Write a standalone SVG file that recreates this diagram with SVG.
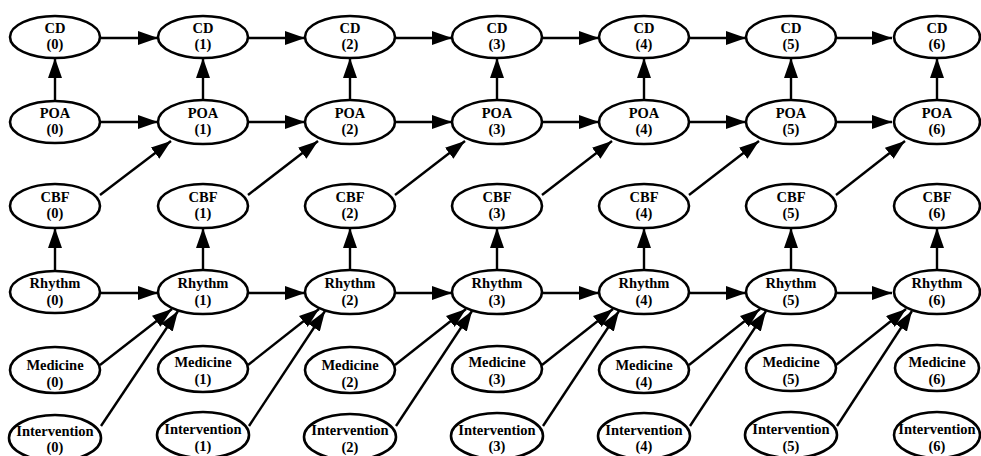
<svg xmlns="http://www.w3.org/2000/svg" width="981" height="456" viewBox="0 0 981 456">
<defs>
<marker id="ah" markerUnits="userSpaceOnUse" markerWidth="20" markerHeight="14" refX="20" refY="7" orient="auto">
<path d="M0,0 L20,7 L0,14 z" fill="#000"/>
</marker>
<style>
.n ellipse{fill:#fff;stroke:#000;stroke-width:2.6}
.n text{font-family:"Liberation Serif","Times New Roman",serif;font-size:14.5px;font-weight:bold;text-anchor:middle;fill:#000}
#edges line{stroke:#000;stroke-width:2.4;marker-end:url(#ah)}
</style>
</defs>
<rect width="981" height="456" fill="#fff"/>
<g id="edges">
<line x1="100" y1="38" x2="158" y2="38"/>
<line x1="248" y1="38" x2="305" y2="38"/>
<line x1="395" y1="38" x2="452" y2="38"/>
<line x1="542" y1="38" x2="599" y2="38"/>
<line x1="689" y1="38" x2="746" y2="38"/>
<line x1="836" y1="38" x2="892" y2="38"/>
<line x1="100" y1="122" x2="158" y2="122"/>
<line x1="248" y1="122" x2="305" y2="122"/>
<line x1="395" y1="122" x2="452" y2="122"/>
<line x1="542" y1="122" x2="599" y2="122"/>
<line x1="689" y1="122" x2="746" y2="122"/>
<line x1="836" y1="122" x2="892" y2="122"/>
<line x1="100" y1="293" x2="158" y2="293"/>
<line x1="248" y1="293" x2="305" y2="293"/>
<line x1="395" y1="293" x2="452" y2="293"/>
<line x1="542" y1="293" x2="599" y2="293"/>
<line x1="689" y1="293" x2="746" y2="293"/>
<line x1="836" y1="293" x2="892" y2="293"/>
<line x1="55" y1="101" x2="55" y2="58"/>
<line x1="203" y1="101" x2="203" y2="58"/>
<line x1="350" y1="101" x2="350" y2="58"/>
<line x1="497" y1="101" x2="497" y2="58"/>
<line x1="644" y1="101" x2="644" y2="58"/>
<line x1="791" y1="101" x2="791" y2="58"/>
<line x1="937" y1="101" x2="937" y2="58"/>
<line x1="55" y1="271" x2="55" y2="228"/>
<line x1="203" y1="271" x2="203" y2="228"/>
<line x1="350" y1="271" x2="350" y2="228"/>
<line x1="497" y1="271" x2="497" y2="228"/>
<line x1="644" y1="271" x2="644" y2="228"/>
<line x1="791" y1="271" x2="791" y2="228"/>
<line x1="937" y1="271" x2="937" y2="228"/>
<line x1="100" y1="195" x2="171" y2="141"/>
<line x1="248" y1="195" x2="318" y2="141"/>
<line x1="395" y1="195" x2="465" y2="141"/>
<line x1="542" y1="195" x2="612" y2="141"/>
<line x1="689" y1="195" x2="759" y2="141"/>
<line x1="836" y1="195" x2="905" y2="141"/>
<line x1="100" y1="365" x2="172" y2="309"/>
<line x1="248" y1="365" x2="319" y2="309"/>
<line x1="395" y1="365" x2="466" y2="309"/>
<line x1="542" y1="365" x2="613" y2="309"/>
<line x1="689" y1="365" x2="760" y2="309"/>
<line x1="836" y1="365" x2="906" y2="309"/>
<line x1="101" y1="426" x2="178" y2="311"/>
<line x1="249" y1="426" x2="325" y2="311"/>
<line x1="396" y1="426" x2="472" y2="311"/>
<line x1="543" y1="426" x2="619" y2="311"/>
<line x1="690" y1="426" x2="766" y2="311"/>
<line x1="837" y1="426" x2="912" y2="311"/>
</g>
<g id="cd0" class="n"><ellipse cx="55" cy="37" rx="45" ry="21"/><text x="55" y="32.5">CD<tspan x="55" dy="16.5">(0)</tspan></text></g>
<g id="cd1" class="n"><ellipse cx="203" cy="37" rx="45" ry="21"/><text x="203" y="32.5">CD<tspan x="203" dy="16.5">(1)</tspan></text></g>
<g id="cd2" class="n"><ellipse cx="350" cy="37" rx="45" ry="21"/><text x="350" y="32.5">CD<tspan x="350" dy="16.5">(2)</tspan></text></g>
<g id="cd3" class="n"><ellipse cx="497" cy="37" rx="45" ry="21"/><text x="497" y="32.5">CD<tspan x="497" dy="16.5">(3)</tspan></text></g>
<g id="cd4" class="n"><ellipse cx="644" cy="37" rx="45" ry="21"/><text x="644" y="32.5">CD<tspan x="644" dy="16.5">(4)</tspan></text></g>
<g id="cd5" class="n"><ellipse cx="791" cy="37" rx="45" ry="21"/><text x="791" y="32.5">CD<tspan x="791" dy="16.5">(5)</tspan></text></g>
<g id="cd6" class="n"><ellipse cx="937" cy="37" rx="43" ry="21"/><text x="937" y="32.5">CD<tspan x="937" dy="16.5">(6)</tspan></text></g>
<g id="poa0" class="n"><ellipse cx="55" cy="122" rx="45" ry="21"/><text x="55" y="117.5">POA<tspan x="55" dy="16.5">(0)</tspan></text></g>
<g id="poa1" class="n"><ellipse cx="203" cy="122" rx="45" ry="22"/><text x="203" y="117.5">POA<tspan x="203" dy="16.5">(1)</tspan></text></g>
<g id="poa2" class="n"><ellipse cx="350" cy="122" rx="45" ry="22"/><text x="350" y="117.5">POA<tspan x="350" dy="16.5">(2)</tspan></text></g>
<g id="poa3" class="n"><ellipse cx="497" cy="122" rx="45" ry="22"/><text x="497" y="117.5">POA<tspan x="497" dy="16.5">(3)</tspan></text></g>
<g id="poa4" class="n"><ellipse cx="644" cy="122" rx="45" ry="22"/><text x="644" y="117.5">POA<tspan x="644" dy="16.5">(4)</tspan></text></g>
<g id="poa5" class="n"><ellipse cx="791" cy="122" rx="45" ry="22"/><text x="791" y="117.5">POA<tspan x="791" dy="16.5">(5)</tspan></text></g>
<g id="poa6" class="n"><ellipse cx="937" cy="122" rx="43" ry="22"/><text x="937" y="117.5">POA<tspan x="937" dy="16.5">(6)</tspan></text></g>
<g id="cbf0" class="n"><ellipse cx="55" cy="206" rx="45" ry="22"/><text x="55" y="201.5">CBF<tspan x="55" dy="16.5">(0)</tspan></text></g>
<g id="cbf1" class="n"><ellipse cx="203" cy="206" rx="45" ry="22"/><text x="203" y="201.5">CBF<tspan x="203" dy="16.5">(1)</tspan></text></g>
<g id="cbf2" class="n"><ellipse cx="350" cy="206" rx="45" ry="22"/><text x="350" y="201.5">CBF<tspan x="350" dy="16.5">(2)</tspan></text></g>
<g id="cbf3" class="n"><ellipse cx="497" cy="206" rx="45" ry="22"/><text x="497" y="201.5">CBF<tspan x="497" dy="16.5">(3)</tspan></text></g>
<g id="cbf4" class="n"><ellipse cx="644" cy="206" rx="45" ry="22"/><text x="644" y="201.5">CBF<tspan x="644" dy="16.5">(4)</tspan></text></g>
<g id="cbf5" class="n"><ellipse cx="791" cy="206" rx="45" ry="22"/><text x="791" y="201.5">CBF<tspan x="791" dy="16.5">(5)</tspan></text></g>
<g id="cbf6" class="n"><ellipse cx="937" cy="206" rx="43" ry="22"/><text x="937" y="201.5">CBF<tspan x="937" dy="16.5">(6)</tspan></text></g>
<g id="rhythm0" class="n"><ellipse cx="55" cy="292" rx="45" ry="21"/><text x="55" y="288">Rhythm<tspan x="55" dy="16.5">(0)</tspan></text></g>
<g id="rhythm1" class="n"><ellipse cx="203" cy="292" rx="45" ry="22"/><text x="203" y="288">Rhythm<tspan x="203" dy="16.5">(1)</tspan></text></g>
<g id="rhythm2" class="n"><ellipse cx="350" cy="292" rx="45" ry="22"/><text x="350" y="288">Rhythm<tspan x="350" dy="16.5">(2)</tspan></text></g>
<g id="rhythm3" class="n"><ellipse cx="497" cy="292" rx="45" ry="22"/><text x="497" y="288">Rhythm<tspan x="497" dy="16.5">(3)</tspan></text></g>
<g id="rhythm4" class="n"><ellipse cx="644" cy="292" rx="45" ry="22"/><text x="644" y="288">Rhythm<tspan x="644" dy="16.5">(4)</tspan></text></g>
<g id="rhythm5" class="n"><ellipse cx="791" cy="292" rx="45" ry="22"/><text x="791" y="288">Rhythm<tspan x="791" dy="16.5">(5)</tspan></text></g>
<g id="rhythm6" class="n"><ellipse cx="937" cy="292" rx="43" ry="22"/><text x="937" y="288">Rhythm<tspan x="937" dy="16.5">(6)</tspan></text></g>
<g id="medicine0" class="n"><ellipse cx="55" cy="370" rx="45" ry="23"/><text x="55" y="370">Medicine<tspan x="55" dy="16.5">(0)</tspan></text></g>
<g id="medicine1" class="n"><ellipse cx="203" cy="369" rx="45" ry="23"/><text x="203" y="367">Medicine<tspan x="203" dy="16.5">(1)</tspan></text></g>
<g id="medicine2" class="n"><ellipse cx="350" cy="370" rx="45" ry="23"/><text x="350" y="370">Medicine<tspan x="350" dy="16.5">(2)</tspan></text></g>
<g id="medicine3" class="n"><ellipse cx="497" cy="369" rx="45" ry="23"/><text x="497" y="367">Medicine<tspan x="497" dy="16.5">(3)</tspan></text></g>
<g id="medicine4" class="n"><ellipse cx="644" cy="370" rx="45" ry="23"/><text x="644" y="370">Medicine<tspan x="644" dy="16.5">(4)</tspan></text></g>
<g id="medicine5" class="n"><ellipse cx="791" cy="368" rx="45" ry="23"/><text x="791" y="367">Medicine<tspan x="791" dy="16.5">(5)</tspan></text></g>
<g id="medicine6" class="n"><ellipse cx="937" cy="368" rx="42" ry="23"/><text x="937" y="367">Medicine<tspan x="937" dy="16.5">(6)</tspan></text></g>
<g id="intervention0" class="n"><ellipse cx="55" cy="438" rx="46" ry="23"/><text x="55" y="435.5">Intervention<tspan x="55" dy="16.5">(0)</tspan></text></g>
<g id="intervention1" class="n"><ellipse cx="203" cy="435" rx="46" ry="23"/><text x="203" y="434">Intervention<tspan x="203" dy="16.5">(1)</tspan></text></g>
<g id="intervention2" class="n"><ellipse cx="350" cy="437" rx="46" ry="23"/><text x="350" y="435">Intervention<tspan x="350" dy="16.5">(2)</tspan></text></g>
<g id="intervention3" class="n"><ellipse cx="497" cy="436" rx="46" ry="23"/><text x="497" y="434.5">Intervention<tspan x="497" dy="16.5">(3)</tspan></text></g>
<g id="intervention4" class="n"><ellipse cx="644" cy="436" rx="46" ry="23"/><text x="644" y="434.5">Intervention<tspan x="644" dy="16.5">(4)</tspan></text></g>
<g id="intervention5" class="n"><ellipse cx="791" cy="435" rx="46" ry="23"/><text x="791" y="434">Intervention<tspan x="791" dy="16.5">(5)</tspan></text></g>
<g id="intervention6" class="n"><ellipse cx="937" cy="435" rx="43" ry="23"/><text x="937" y="434">Intervention<tspan x="937" dy="16.5">(6)</tspan></text></g>
</svg>
